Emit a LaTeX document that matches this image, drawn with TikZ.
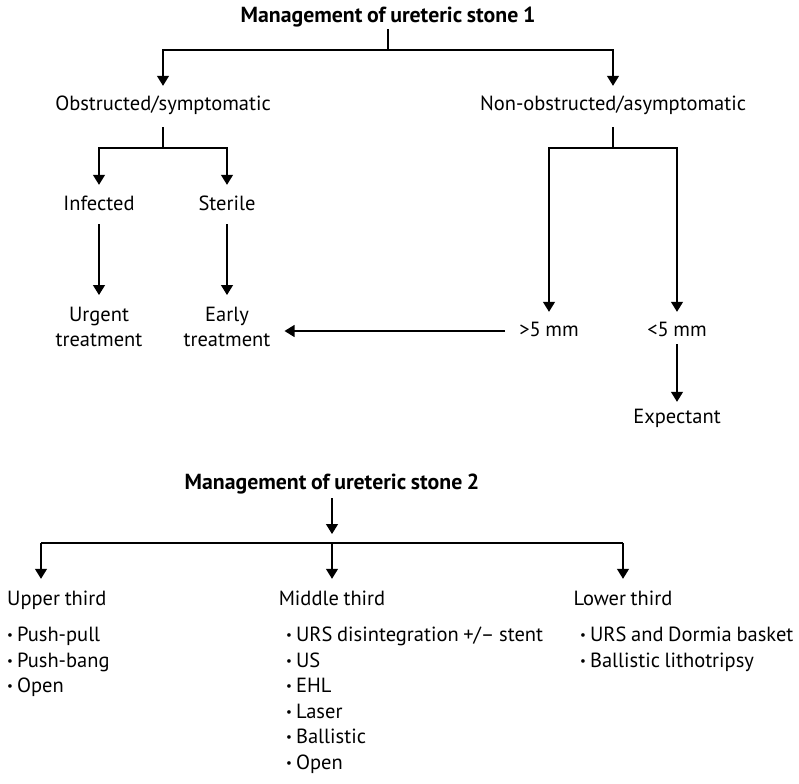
\documentclass[tikz,border=0pt]{standalone}
\usepackage{fontspec}
\setmainfont{PT Sans}[WordSpace=0.85]
\usetikzlibrary{arrows.meta}
\newcommand{\fs}{\fontsize{20.5}{25}\selectfont}
\newcommand{\fb}{\fontsize{21.8}{25}\selectfont\bfseries}
\newcommand{\bul}{{\fontsize{13}{13}\selectfont\raisebox{2pt}{•}}\hspace{4pt}}
\tikzset{
  lbl/.style={inner sep=0pt, font=\fs, text height=15pt, text depth=5pt},
  ttl/.style={lbl, font=\fb},
  two/.style={inner sep=0pt, font=\fs, align=center},
  ln/.style={line width=1.3pt},
  arr/.style={ln, -{Triangle[width=12pt,length=10pt]}},
  item/.style={inner sep=0pt, font=\fs, anchor=base west}
}
\begin{document}
\begin{tikzpicture}[x=1pt,y=-1pt]
\useasboundingbox (0,0) rectangle (799,783);
% ---- part 1
\node[ttl, anchor=base] (t1) at (388,23) {Management of ureteric stone 1};
\node[lbl, anchor=base] (obs) at (163,111) {Obstructed/symptomatic};
\node[lbl, anchor=base] (nob) at (613,111) {Non-obstructed/asymptomatic};
\node[lbl, anchor=base] (inf) at (99,211) {Infected};
\node[lbl, anchor=base] (ste) at (227,211) {Sterile};
\node[two, anchor=north] (urg) at (99,307) {Urgent\\treatment};
\node[two, anchor=north] (ear) at (227,307) {Early\\treatment};
\node[lbl, anchor=base] (gt) at (549,336) {>5 mm};
\node[lbl, anchor=base] (lt) at (677,336) {<5 mm};
\node[lbl, anchor=base] (exp) at (677,423) {Expectant};
\coordinate (j1) at (388,50);
\coordinate (j2) at (163,148);
\coordinate (j3) at (613,148);
\draw[ln, shorten <=1pt] (t1.south) -- (j1);
\draw[arr, shorten >=10pt] (j1) -| (obs.north);
\draw[arr, shorten >=10pt] (j1) -| (nob.north);
\draw[ln, shorten <=11pt] (obs.south) -- (j2);
\draw[arr, shorten >=11pt] (j2) -| (inf.north);
\draw[arr, shorten >=11pt] (j2) -| (ste.north);
\draw[arr, shorten <=8pt, shorten >=12pt] (inf.south) -- (urg.north);
\draw[arr, shorten <=8pt, shorten >=12pt] (ste.south) -- (ear.north);
\draw[ln, shorten <=11pt] (nob.south) -- (j3);
\draw[arr, shorten >=9pt] (j3) -| (gt.north);
\draw[arr, shorten >=9pt] (j3) -| (lt.north);
\draw[arr, shorten <=3pt, shorten >=6pt] (lt.south) -- (exp.north);
\draw[arr, shorten <=14pt, shorten >=14pt] (gt.west) -- (gt.west -| ear.east);
% ---- part 2
\node[ttl, anchor=base] (t2) at (332,489) {Management of ureteric stone 2};
\node[lbl, anchor=base west] (up) at (7,605) {Upper third};
\node[lbl, anchor=base] (mid) at (332,605) {Middle third};
\node[lbl, anchor=base] (low) at (623,605) {Lower third};
\coordinate (j4) at (332,543);
\coordinate (a1) at (41,543);
\coordinate (a3) at (623,543);
\draw[arr, shorten <=4pt, shorten >=9pt] (t2.south) -- (j4);
\draw[ln] (a1) -- (a3);
\draw[arr, shorten >=11pt] (a1) -- (up.north -| a1);
\draw[arr, shorten >=11pt] (j4) -- (mid.north);
\draw[arr, shorten >=11pt] (a3) -- (low.north);
\node[item] (u1) at (7,641) {\bul Push-pull};
\node[item] (u2) at (7,667) {\bul Push-bang};
\node[item] (u3) at (7,692) {\bul Open};
\node[item] (m1) at (286,641) {\bul URS disintegration +/– stent};
\node[item] (m2) at (286,667) {\bul US};
\node[item] (m3) at (286,692) {\bul EHL};
\node[item] (m4) at (286,718) {\bul Laser};
\node[item] (m5) at (286,743) {\bul Ballistic};
\node[item] (m6) at (286,769) {\bul Open};
\node[item] (l1) at (580,641) {\bul URS and Dormia basket};
\node[item] (l2) at (580,667) {\bul Ballistic lithotripsy};
\end{tikzpicture}
\end{document}
